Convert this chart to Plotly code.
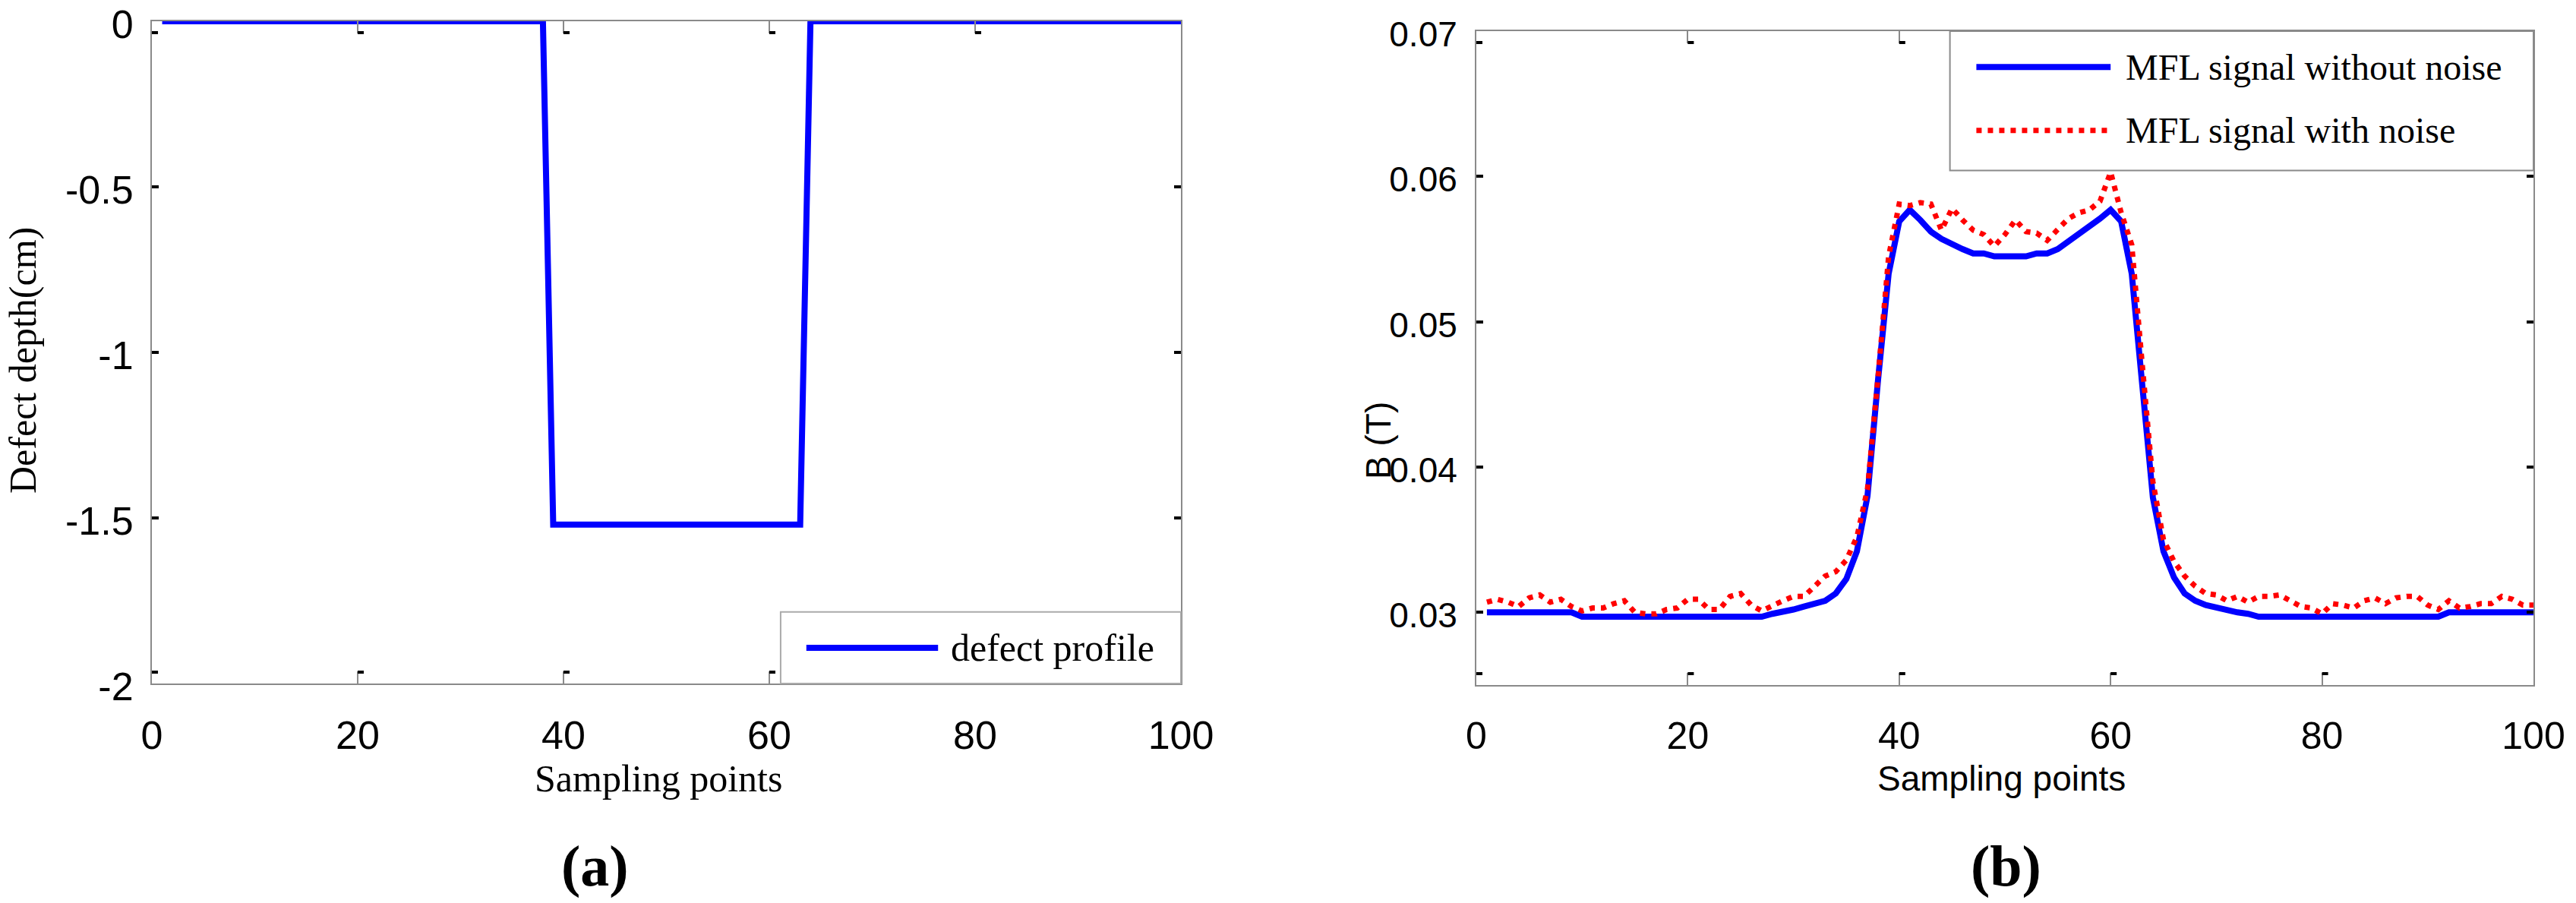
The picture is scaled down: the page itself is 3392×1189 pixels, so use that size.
import plotly.graph_objects as go

# ---------------- data ----------------
sampling_points = list(range(1, 101))

defect_profile = [
    0, 0, 0, 0, 0, 0, 0, 0, 0, 0,
    0, 0, 0, 0, 0, 0, 0, 0, 0, 0,
    0, 0, 0, 0, 0, 0, 0, 0, 0, 0,
    0, 0, 0, 0, 0, 0, 0, 0, -1.52, -1.52,
    -1.52, -1.52, -1.52, -1.52, -1.52, -1.52, -1.52, -1.52, -1.52, -1.52,
    -1.52, -1.52, -1.52, -1.52, -1.52, -1.52, -1.52, -1.52, -1.52, -1.52,
    -1.52, -1.52, -1.52, 0, 0, 0, 0, 0, 0, 0,
    0, 0, 0, 0, 0, 0, 0, 0, 0, 0,
    0, 0, 0, 0, 0, 0, 0, 0, 0, 0,
    0, 0, 0, 0, 0, 0, 0, 0, 0, 0,
]

mfl_clean = [
    0.0300, 0.0300, 0.0300, 0.0300, 0.0300, 0.0300, 0.0300, 0.0300, 0.0300, 0.0297,
    0.0297, 0.0297, 0.0297, 0.0297, 0.0297, 0.0297, 0.0297, 0.0297, 0.0297, 0.0297,
    0.0297, 0.0297, 0.0297, 0.0297, 0.0297, 0.0297, 0.0297, 0.0299, 0.0300, 0.0302,
    0.0304, 0.0306, 0.0308, 0.0313, 0.0323, 0.0342, 0.0380, 0.0460, 0.0533, 0.0569,
    0.0577, 0.0570, 0.0562, 0.0557, 0.0553, 0.0550, 0.0547, 0.0547, 0.0545, 0.0545,
    0.0545, 0.0545, 0.0547, 0.0547, 0.0550, 0.0555, 0.0560, 0.0566, 0.0571, 0.0577,
    0.0569, 0.0533, 0.0460, 0.0379, 0.0342, 0.0324, 0.0313, 0.0308, 0.0305, 0.0303,
    0.0301, 0.0300, 0.0299, 0.0297, 0.0297, 0.0297, 0.0297, 0.0297, 0.0297, 0.0297,
    0.0297, 0.0297, 0.0297, 0.0297, 0.0297, 0.0297, 0.0297, 0.0297, 0.0297, 0.0297,
    0.0297, 0.0300, 0.0300, 0.0300, 0.0300, 0.0300, 0.0300, 0.0300, 0.0300, 0.0300,
]

mfl_noisy = [
    0.0307, 0.0309, 0.0307, 0.0304, 0.0310, 0.0312, 0.0307, 0.0309, 0.0304, 0.0301,
    0.0303, 0.0303, 0.0306, 0.0308, 0.0300, 0.0299, 0.0299, 0.0302, 0.0303, 0.0309,
    0.0309, 0.0302, 0.0302, 0.0311, 0.0313, 0.0305, 0.0301, 0.0305, 0.0308, 0.0311,
    0.0311, 0.0318, 0.0325, 0.0328, 0.0336, 0.0352, 0.0385, 0.0462, 0.0545, 0.0581,
    0.0580, 0.0582, 0.0581, 0.0563, 0.0578, 0.0570, 0.0563, 0.0560, 0.0552, 0.0560,
    0.0570, 0.0562, 0.0561, 0.0556, 0.0563, 0.0571, 0.0575, 0.0577, 0.0583, 0.0603,
    0.0575, 0.0553, 0.0470, 0.0390, 0.0350, 0.0335, 0.0325, 0.0318, 0.0313, 0.0312,
    0.0308, 0.0311, 0.0307, 0.0311, 0.0311, 0.0312, 0.0308, 0.0304, 0.0303, 0.0299,
    0.0306, 0.0305, 0.0303, 0.0308, 0.0310, 0.0306, 0.0310, 0.0311, 0.0311, 0.0305,
    0.0302, 0.0308, 0.0303, 0.0304, 0.0306, 0.0306, 0.0311, 0.0309, 0.0305, 0.0305,
]

x_tick_vals = [0, 20, 40, 60, 80, 100]
x_tick_text = ["0", "20", "40", "60", "80", "100"]
left_y_tick_vals = [-2, -1.5, -1, -0.5, 0]
left_y_tick_text = ["-2", "-1.5", "-1", "-0.5", "0"]
right_y_tick_vals = [0.03, 0.04, 0.05, 0.06, 0.07]
right_y_tick_text = ["0.03", "0.04", "0.05", "0.06", "0.07"]

series_names = ["defect profile", "MFL signal without noise", "MFL signal with noise"]

# ---------------- figure ----------------
W, H = 3392, 1189
BLUE = "#0000ff"
RED = "#ff0000"
SANS = "Liberation Sans, Arial, sans-serif"
SERIF = "Liberation Serif, Times New Roman, serif"

fig = go.Figure()

fig.add_trace(go.Scatter(
    x=sampling_points, y=defect_profile, mode="lines", name=series_names[0],
    line=dict(color=BLUE, width=8), xaxis="x", yaxis="y", cliponaxis=False,
    showlegend=False,
))
fig.add_trace(go.Scatter(
    x=sampling_points, y=mfl_clean, mode="lines", name=series_names[1],
    line=dict(color=BLUE, width=8), xaxis="x2", yaxis="y2", showlegend=False,
))
fig.add_trace(go.Scatter(
    x=sampling_points, y=mfl_noisy, mode="lines", name=series_names[2],
    line=dict(color=RED, width=7, dash="7px,8px"), xaxis="x2", yaxis="y2",
    showlegend=False,
))

def px_x(p):
    return p / W

def px_y(p):
    return 1 - p / H

def x_axis_style(size):
    return dict(
        showgrid=False, zeroline=False, showline=True, linecolor="#8a8a8a",
        linewidth=2, mirror="ticks", ticks="inside", tickcolor="#8a8a8a",
        ticklen=16, tickwidth=2, automargin=False, ticklabeloverflow="allow",
        tickfont=dict(family=SANS, size=size, color="black"),
    )

def y_axis_style(size):
    return dict(
        showgrid=False, zeroline=False, showline=True, linecolor="#8a8a8a",
        linewidth=2, mirror="ticks", ticks="inside", tickcolor="black",
        ticklen=9, tickwidth=4, automargin=False, ticklabeloverflow="allow",
        ticklabelshift=4,
        tickfont=dict(family=SANS, size=size, color="black"),
    )

fig.update_layout(
    width=W, height=H,
    margin=dict(l=0, r=0, t=0, b=0, autoexpand=False),
    paper_bgcolor="white", plot_bgcolor="white",
    showlegend=False,
    xaxis=dict(domain=[px_x(200), px_x(1555)], range=[0, 100], anchor="y",
               tickvals=x_tick_vals, ticktext=x_tick_text,
               ticklabelstandoff=22, **x_axis_style(52)),
    yaxis=dict(domain=[px_y(900), px_y(28)], range=[-2, 0], anchor="x",
               tickvals=left_y_tick_vals, ticktext=left_y_tick_text,
               ticklabelstandoff=12, **y_axis_style(52)),
    xaxis2=dict(domain=[px_x(1944), px_x(3336)], range=[0, 100], anchor="y2",
                tickvals=x_tick_vals, ticktext=x_tick_text,
                ticklabelstandoff=22, **x_axis_style(50)),
    yaxis2=dict(domain=[px_y(902), px_y(41)], range=[0.025, 0.07], anchor="x2",
                tickvals=right_y_tick_vals, ticktext=right_y_tick_text,
                ticklabelstandoff=14, **y_axis_style(46)),
)

shapes = []
annotations = []

# small black tick marks at the end of the inward x ticks (as in the MATLAB export)
for xa, yd in (("x", "y domain"), ("x2", "y2 domain")):
    for v in x_tick_vals:
        for anchor, sign in ((1, -1), (0, 1)):
            shapes.append(dict(
                type="rect", xref=xa, yref=yd,
                xsizemode="pixel", xanchor=v, x0=0, x1=8,
                ysizemode="pixel", yanchor=anchor, y0=sign * 13, y1=sign * 17,
                fillcolor="black", line=dict(width=0), layer="above",
            ))

# legend (a)
shapes.append(dict(type="rect", xref="x domain", yref="y domain",
                   x0=0.611, x1=1.0, y0=0.0, y1=0.108,
                   fillcolor="white", line=dict(color="#aaaaaa", width=2), layer="above"))
shapes.append(dict(type="line", xref="x domain", yref="y domain",
                   x0=0.636, x1=0.764, y0=0.054, y1=0.054,
                   line=dict(color=BLUE, width=8), layer="above"))
annotations.append(dict(xref="x domain", yref="y domain", x=0.775, y=0.054,
                        text=series_names[0], showarrow=False, xanchor="left", yanchor="middle",
                        font=dict(family=SERIF, size=50, color="black")))

# legend (b)
shapes.append(dict(type="rect", xref="x2 domain", yref="y2 domain",
                   x0=0.448, x1=1.0, y0=0.787, y1=1.0,
                   fillcolor="white", line=dict(color="#8a8a8a", width=2), layer="above"))
shapes.append(dict(type="line", xref="x2 domain", yref="y2 domain",
                   x0=0.473, x1=0.600, y0=0.945, y1=0.945,
                   line=dict(color=BLUE, width=8), layer="above"))
shapes.append(dict(type="line", xref="x2 domain", yref="y2 domain",
                   x0=0.473, x1=0.600, y0=0.848, y1=0.848,
                   line=dict(color=RED, width=7, dash="7px,8px"), layer="above"))
annotations.append(dict(xref="x2 domain", yref="y2 domain", x=0.613, y=0.945,
                        text=series_names[1], showarrow=False, xanchor="left", yanchor="middle",
                        font=dict(family=SERIF, size=48, color="black")))
annotations.append(dict(xref="x2 domain", yref="y2 domain", x=0.613, y=0.848,
                        text=series_names[2], showarrow=False, xanchor="left", yanchor="middle",
                        font=dict(family=SERIF, size=48, color="black")))

# axis titles and panel labels
annotations += [
    dict(xref="paper", yref="paper", x=px_x(30), y=px_y(475), text="Defect depth(cm)",
         textangle=-90, showarrow=False, xanchor="center", yanchor="middle",
         font=dict(family=SERIF, size=50, color="black")),
    dict(xref="paper", yref="paper", x=px_x(867), y=px_y(1025), text="Sampling points",
         showarrow=False, xanchor="center", yanchor="middle",
         font=dict(family=SERIF, size=50, color="black")),
    dict(xref="paper", yref="paper", x=px_x(1815), y=px_y(580), text="B (T)",
         textangle=-90, showarrow=False, xanchor="center", yanchor="middle",
         font=dict(family=SANS, size=46, color="black")),
    dict(xref="paper", yref="paper", x=px_x(2635), y=px_y(1025), text="Sampling points",
         showarrow=False, xanchor="center", yanchor="middle",
         font=dict(family=SANS, size=46, color="black")),
    dict(xref="paper", yref="paper", x=px_x(783), y=px_y(1140), text="<b>(a)</b>",
         showarrow=False, xanchor="center", yanchor="middle",
         font=dict(family=SERIF, size=76, color="black")),
    dict(xref="paper", yref="paper", x=px_x(2641), y=px_y(1140), text="<b>(b)</b>",
         showarrow=False, xanchor="center", yanchor="middle",
         font=dict(family=SERIF, size=76, color="black")),
]

fig.update_layout(shapes=shapes, annotations=annotations)

fig.write_html(
    "out.html",
    config={"displayModeBar": False},
    post_script="document.body.style.margin='0';document.body.style.overflow='hidden';",
)
